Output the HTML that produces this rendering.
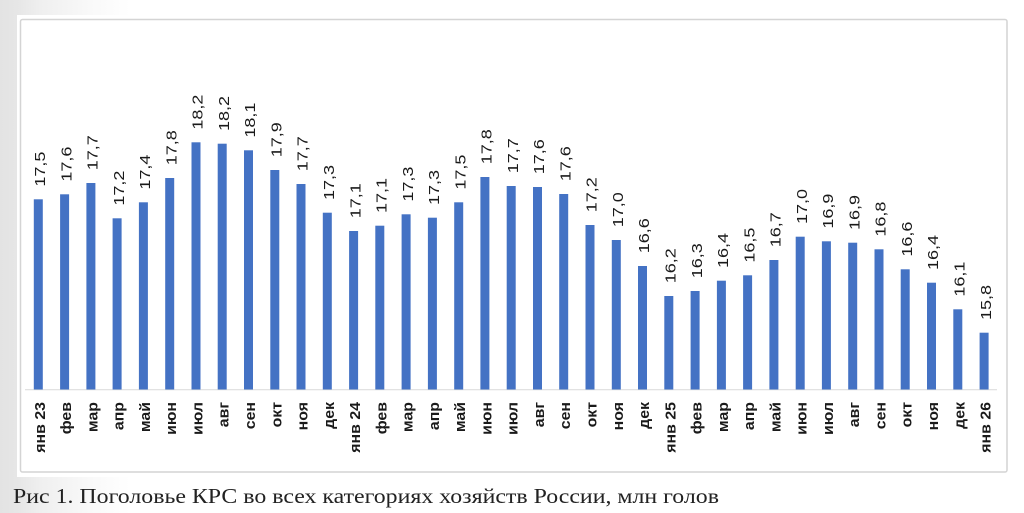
<!DOCTYPE html>
<html><head><meta charset="utf-8">
<style>
html,body{margin:0;padding:0;}
body{width:1024px;height:513px;overflow:hidden;background:linear-gradient(90deg,#e3e3e3 0px,#e6e6e6 17px,#efefef 40px,#f9f9f9 90px,#ffffff 130px);}
svg{display:block;}
.v{font-family:"Liberation Sans",sans-serif;font-size:15px;fill:#1a1a1a;}
.c{font-family:"Liberation Sans",sans-serif;font-size:15px;font-weight:bold;fill:#1a1a1a;text-anchor:end;}
.cap{font-family:"Liberation Serif",serif;font-size:21px;fill:#222;}
</style></head><body>
<svg width="1024" height="513" viewBox="0 0 1024 513" xmlns="http://www.w3.org/2000/svg">
<rect x="17" y="15" width="1007" height="462" fill="#ffffff"/>
<rect x="20.5" y="19.5" width="986.5" height="452.5" rx="2" fill="#ffffff" stroke="#d4d4d4" stroke-width="1.5"/>
<line x1="25" y1="389.8" x2="997" y2="389.8" stroke="#d9d9d9" stroke-width="1"/>
<g fill="#4472C4">
<rect x="33.8" y="199.3" width="9" height="190.2"/>
<rect x="60.1" y="194.3" width="9" height="195.2"/>
<rect x="86.4" y="183" width="9" height="206.5"/>
<rect x="112.6" y="218.3" width="9" height="171.2"/>
<rect x="138.9" y="202.3" width="9" height="187.2"/>
<rect x="165.2" y="178" width="9" height="211.5"/>
<rect x="191.5" y="142.3" width="9" height="247.2"/>
<rect x="217.7" y="143.7" width="9" height="245.8"/>
<rect x="244" y="150.3" width="9" height="239.2"/>
<rect x="270.3" y="170" width="9" height="219.5"/>
<rect x="296.5" y="184" width="9" height="205.5"/>
<rect x="322.8" y="212.7" width="9" height="176.8"/>
<rect x="349.1" y="231" width="9" height="158.5"/>
<rect x="375.3" y="225.7" width="9" height="163.8"/>
<rect x="401.6" y="214.3" width="9" height="175.2"/>
<rect x="427.9" y="217.7" width="9" height="171.8"/>
<rect x="454.2" y="202.3" width="9" height="187.2"/>
<rect x="480.4" y="177" width="9" height="212.5"/>
<rect x="506.7" y="186" width="9" height="203.5"/>
<rect x="533" y="187" width="9" height="202.5"/>
<rect x="559.2" y="194" width="9" height="195.5"/>
<rect x="585.5" y="225" width="9" height="164.5"/>
<rect x="611.8" y="240" width="9" height="149.5"/>
<rect x="638" y="266" width="9" height="123.5"/>
<rect x="664.3" y="296" width="9" height="93.5"/>
<rect x="690.6" y="291" width="9" height="98.5"/>
<rect x="716.9" y="280.7" width="9" height="108.8"/>
<rect x="743.1" y="275.3" width="9" height="114.2"/>
<rect x="769.4" y="260" width="9" height="129.5"/>
<rect x="795.7" y="236.7" width="9" height="152.8"/>
<rect x="821.9" y="241.3" width="9" height="148.2"/>
<rect x="848.2" y="242.7" width="9" height="146.8"/>
<rect x="874.5" y="249.3" width="9" height="140.2"/>
<rect x="900.7" y="269.3" width="9" height="120.2"/>
<rect x="927" y="282.7" width="9" height="106.8"/>
<rect x="953.3" y="309.3" width="9" height="80.2"/>
<rect x="979.6" y="332.7" width="9" height="56.8"/>
</g>
<g class="v">
<text transform="translate(45,186.6) rotate(-90) scale(1.2,1)">17,5</text>
<text transform="translate(71.3,181.6) rotate(-90) scale(1.2,1)">17,6</text>
<text transform="translate(97.6,170.3) rotate(-90) scale(1.2,1)">17,7</text>
<text transform="translate(123.8,205.6) rotate(-90) scale(1.2,1)">17,2</text>
<text transform="translate(150.1,189.6) rotate(-90) scale(1.2,1)">17,4</text>
<text transform="translate(176.4,165.3) rotate(-90) scale(1.2,1)">17,8</text>
<text transform="translate(202.7,129.6) rotate(-90) scale(1.2,1)">18,2</text>
<text transform="translate(228.9,131) rotate(-90) scale(1.2,1)">18,2</text>
<text transform="translate(255.2,137.6) rotate(-90) scale(1.2,1)">18,1</text>
<text transform="translate(281.5,157.3) rotate(-90) scale(1.2,1)">17,9</text>
<text transform="translate(307.7,171.3) rotate(-90) scale(1.2,1)">17,7</text>
<text transform="translate(334,200) rotate(-90) scale(1.2,1)">17,3</text>
<text transform="translate(360.3,218.3) rotate(-90) scale(1.2,1)">17,1</text>
<text transform="translate(386.5,213) rotate(-90) scale(1.2,1)">17,1</text>
<text transform="translate(412.8,201.6) rotate(-90) scale(1.2,1)">17,3</text>
<text transform="translate(439.1,205) rotate(-90) scale(1.2,1)">17,3</text>
<text transform="translate(465.4,189.6) rotate(-90) scale(1.2,1)">17,5</text>
<text transform="translate(491.6,164.3) rotate(-90) scale(1.2,1)">17,8</text>
<text transform="translate(517.9,173.3) rotate(-90) scale(1.2,1)">17,7</text>
<text transform="translate(544.2,174.3) rotate(-90) scale(1.2,1)">17,6</text>
<text transform="translate(570.4,181.3) rotate(-90) scale(1.2,1)">17,6</text>
<text transform="translate(596.7,212.3) rotate(-90) scale(1.2,1)">17,2</text>
<text transform="translate(623,227.3) rotate(-90) scale(1.2,1)">17,0</text>
<text transform="translate(649.2,253.3) rotate(-90) scale(1.2,1)">16,6</text>
<text transform="translate(675.5,283.3) rotate(-90) scale(1.2,1)">16,2</text>
<text transform="translate(701.8,278.3) rotate(-90) scale(1.2,1)">16,3</text>
<text transform="translate(728.1,268) rotate(-90) scale(1.2,1)">16,4</text>
<text transform="translate(754.3,262.6) rotate(-90) scale(1.2,1)">16,5</text>
<text transform="translate(780.6,247.3) rotate(-90) scale(1.2,1)">16,7</text>
<text transform="translate(806.9,224) rotate(-90) scale(1.2,1)">17,0</text>
<text transform="translate(833.1,228.6) rotate(-90) scale(1.2,1)">16,9</text>
<text transform="translate(859.4,230) rotate(-90) scale(1.2,1)">16,9</text>
<text transform="translate(885.7,236.6) rotate(-90) scale(1.2,1)">16,8</text>
<text transform="translate(911.9,256.6) rotate(-90) scale(1.2,1)">16,6</text>
<text transform="translate(938.2,270) rotate(-90) scale(1.2,1)">16,4</text>
<text transform="translate(964.5,296.6) rotate(-90) scale(1.2,1)">16,1</text>
<text transform="translate(990.8,320) rotate(-90) scale(1.2,1)">15,8</text>
</g>
<g class="c">
<text transform="translate(44.8,402) rotate(-90) scale(1.06,1)">янв 23</text>
<text transform="translate(71.1,402) rotate(-90) scale(1.06,1)">фев</text>
<text transform="translate(97.4,402) rotate(-90) scale(1.06,1)">мар</text>
<text transform="translate(123.6,402) rotate(-90) scale(1.06,1)">апр</text>
<text transform="translate(149.9,402) rotate(-90) scale(1.06,1)">май</text>
<text transform="translate(176.2,402) rotate(-90) scale(1.06,1)">июн</text>
<text transform="translate(202.5,402) rotate(-90) scale(1.06,1)">июл</text>
<text transform="translate(228.7,402) rotate(-90) scale(1.06,1)">авг</text>
<text transform="translate(255,402) rotate(-90) scale(1.06,1)">сен</text>
<text transform="translate(281.3,402) rotate(-90) scale(1.06,1)">окт</text>
<text transform="translate(307.5,402) rotate(-90) scale(1.06,1)">ноя</text>
<text transform="translate(333.8,402) rotate(-90) scale(1.06,1)">дек</text>
<text transform="translate(360.1,402) rotate(-90) scale(1.06,1)">янв 24</text>
<text transform="translate(386.3,402) rotate(-90) scale(1.06,1)">фев</text>
<text transform="translate(412.6,402) rotate(-90) scale(1.06,1)">мар</text>
<text transform="translate(438.9,402) rotate(-90) scale(1.06,1)">апр</text>
<text transform="translate(465.2,402) rotate(-90) scale(1.06,1)">май</text>
<text transform="translate(491.4,402) rotate(-90) scale(1.06,1)">июн</text>
<text transform="translate(517.7,402) rotate(-90) scale(1.06,1)">июл</text>
<text transform="translate(544,402) rotate(-90) scale(1.06,1)">авг</text>
<text transform="translate(570.2,402) rotate(-90) scale(1.06,1)">сен</text>
<text transform="translate(596.5,402) rotate(-90) scale(1.06,1)">окт</text>
<text transform="translate(622.8,402) rotate(-90) scale(1.06,1)">ноя</text>
<text transform="translate(649,402) rotate(-90) scale(1.06,1)">дек</text>
<text transform="translate(675.3,402) rotate(-90) scale(1.06,1)">янв 25</text>
<text transform="translate(701.6,402) rotate(-90) scale(1.06,1)">фев</text>
<text transform="translate(727.9,402) rotate(-90) scale(1.06,1)">мар</text>
<text transform="translate(754.1,402) rotate(-90) scale(1.06,1)">апр</text>
<text transform="translate(780.4,402) rotate(-90) scale(1.06,1)">май</text>
<text transform="translate(806.7,402) rotate(-90) scale(1.06,1)">июн</text>
<text transform="translate(832.9,402) rotate(-90) scale(1.06,1)">июл</text>
<text transform="translate(859.2,402) rotate(-90) scale(1.06,1)">авг</text>
<text transform="translate(885.5,402) rotate(-90) scale(1.06,1)">сен</text>
<text transform="translate(911.7,402) rotate(-90) scale(1.06,1)">окт</text>
<text transform="translate(938,402) rotate(-90) scale(1.06,1)">ноя</text>
<text transform="translate(964.3,402) rotate(-90) scale(1.06,1)">дек</text>
<text transform="translate(990.6,402) rotate(-90) scale(1.06,1)">янв 26</text>
</g>
<text class="cap" x="13" y="503" textLength="706" lengthAdjust="spacingAndGlyphs">Рис 1. Поголовье КРС во всех категориях хозяйств России, млн голов</text>
</svg>
</body></html>
